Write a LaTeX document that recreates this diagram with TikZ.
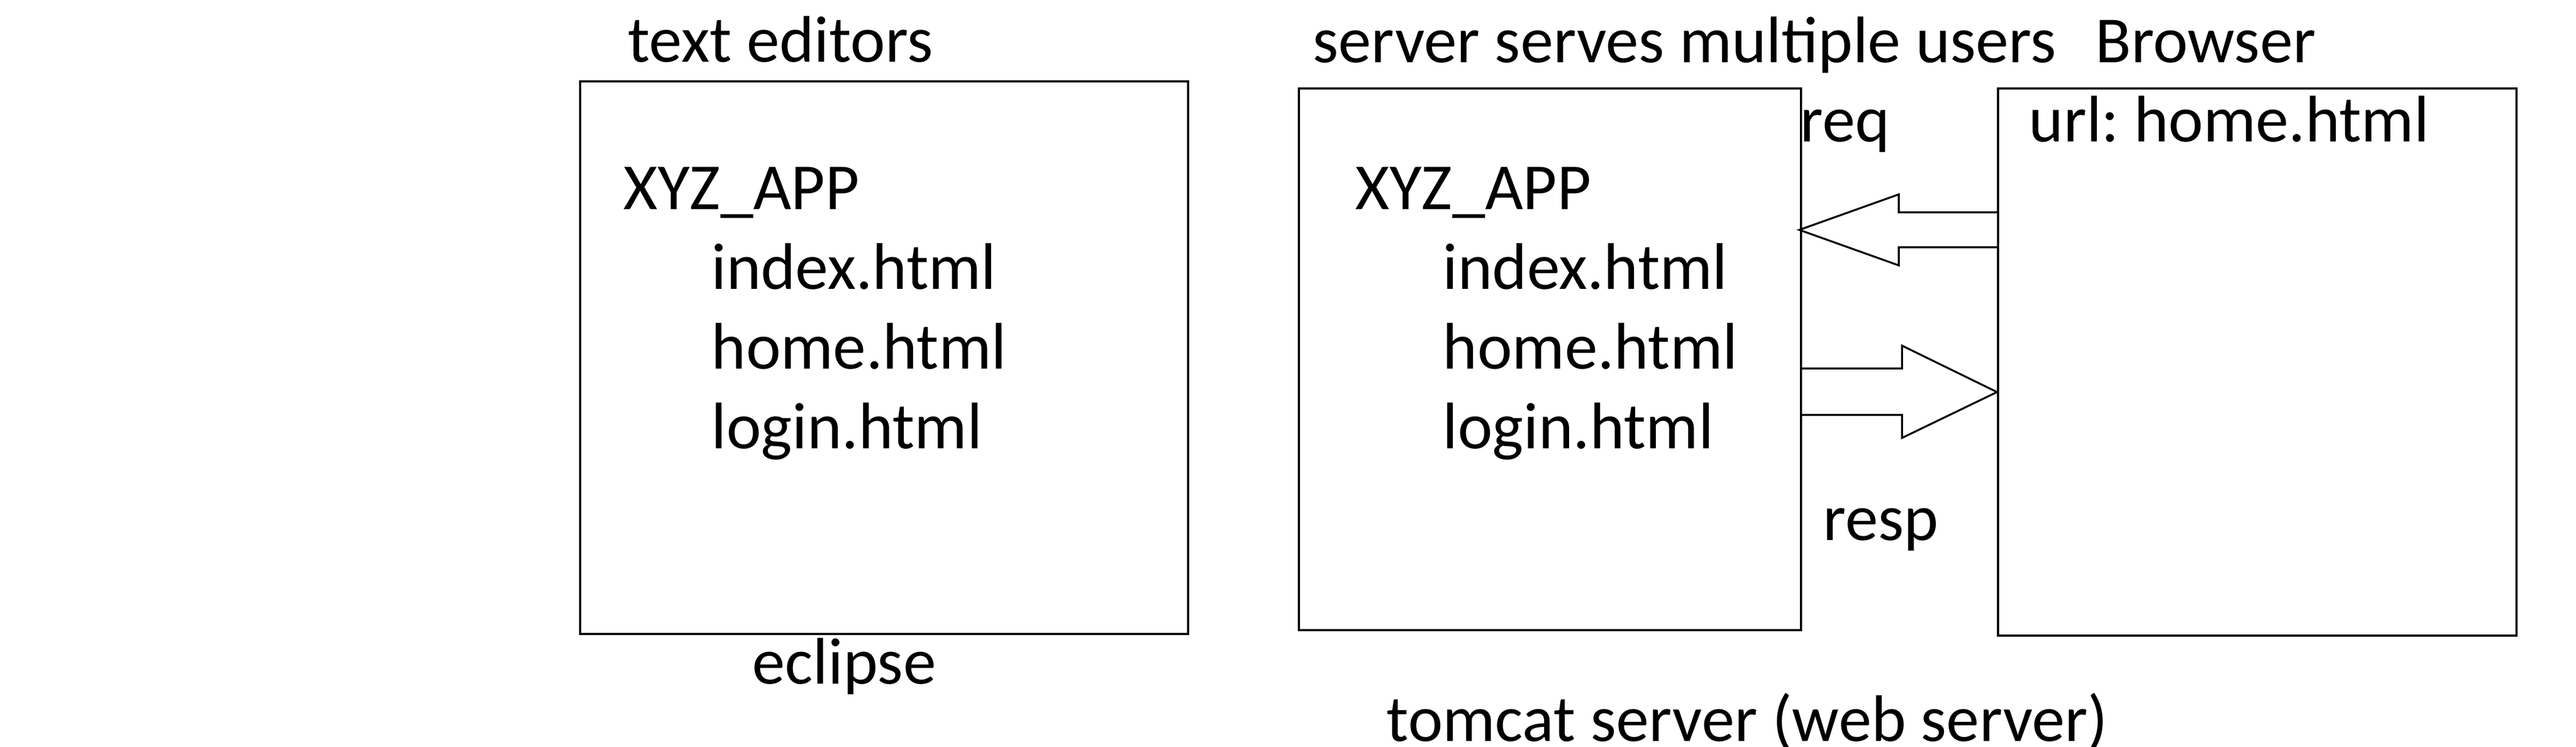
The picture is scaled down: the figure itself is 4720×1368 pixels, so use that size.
\documentclass[tikz,border=0pt]{standalone}
\usepackage{fontspec}
\setmainfont{Carlito}
\frenchspacing
\usetikzlibrary{positioning}
\begin{document}
\begin{tikzpicture}[
			x=0.01cm, y=-0.01cm,
			box/.style={rectangle, draw, line width=1.2pt, inner sep=0pt},
			txt/.style={anchor=base west, inner sep=0pt, font=\fontsize{34.3}{41}\selectfont},
			blockarrow/.style={draw, line width=1pt, fill=white, line join=miter}
			]
			\useasboundingbox (0,0) rectangle (4720,1368);
			
			% the three boxes
			\node[box] (editor) [minimum width=11.13cm, minimum height=10.12cm] at (1620,655) {};
			\node[box] (server) [minimum width=9.19cm, minimum height=9.91cm] at (2840,658) {};
			\node[box] (browser) [minimum width=9.49cm, minimum height=10.02cm] at (4136,663) {};
			
			% editor side
			\node[txt] (edtitle) at (1150,114) {text editors};
			\node[txt] (edapp) at (1142,384) {XYZ\_APP};
			\foreach \f [count=\i] in {index,home,login}
				\node[txt] (edfile\i) at (1303,384+146*\i) {\f.html};
			\node[txt] (eclipse) at (1378,1253) {eclipse};
			
			% server side
			\node[txt] (srvtitle) at (2405,115) {server serves multiple users};
			\node[txt] (srvapp) at (2483,384) {XYZ\_APP};
			\foreach \f [count=\i] in {index,home,login}
				\node[txt] (srvfile\i) at (2643,384+146*\i) {\f.html};
			\node[txt] (tomcat) at (2540,1358) {tomcat server (web server)};
			
			% browser side
			\node[txt] (brtitle) at (3839,115) {Browser};
			\node[txt] (url) at (3717,260) {url: home.html};
			
			% request and response
			\draw[blockarrow] (browser.west |- 0,389) -- (3479,389) -- (3479,356) -- ([xshift=-0.05cm]server.east |- 0,421)
				-- (3479,486) -- (3479,453) -- (browser.west |- 0,453);
			\draw[blockarrow] (server.east |- 0,675) -- (3485,675) -- (3485,633) -- (browser.west |- 0,718)
				-- (3485,802) -- (3485,760) -- (server.east |- 0,760);
			\node[txt] (req) at (3298,260) {req};
			\node[txt] (resp) at (3340,990) {resp};
		\end{tikzpicture}
\end{document}
